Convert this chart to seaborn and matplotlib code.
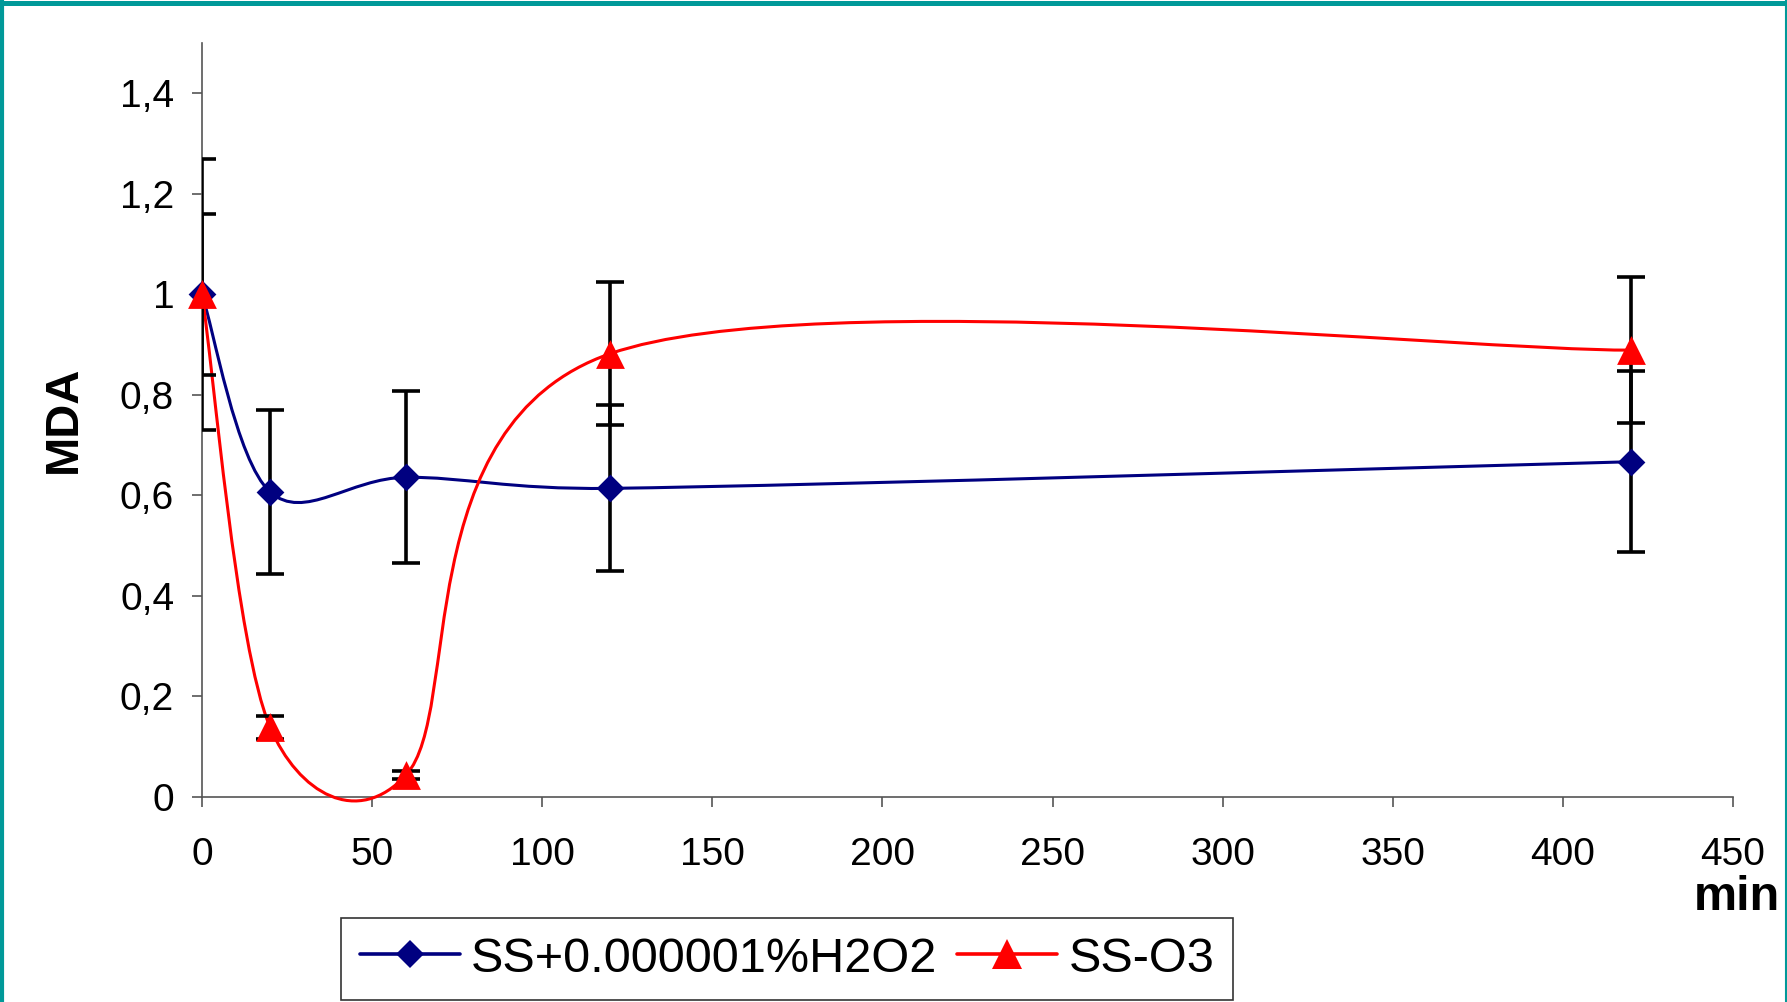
import numpy as np
import matplotlib
matplotlib.use("Agg")
import matplotlib.pyplot as plt
import seaborn as sns
from matplotlib.path import Path
from matplotlib.patches import PathPatch
from matplotlib.lines import Line2D

# Data
minutes = [0, 20, 60, 120, 420]
mda_h2o2 = [1.0, 0.607, 0.636, 0.614, 0.667]
err_h2o2 = [0.27, 0.163, 0.171, 0.165, 0.18]
mda_o3 = [1.0, 0.139, 0.044, 0.882, 0.889]
err_o3 = [0.16, 0.023, 0.008, 0.142, 0.145]
labels = ["SS+0.000001%H2O2", "SS-O3"]
yticks = [0, 0.2, 0.4, 0.6, 0.8, 1.0, 1.2, 1.4]
ytick_labels = ["0", "0,2", "0,4", "0,6", "0,8", "1", "1,2", "1,4"]
xticks = [0, 50, 100, 150, 200, 250, 300, 350, 400, 450]

BLUE = "#000080"
RED = "#FF0000"

sns.set_theme(style="white")
plt.rcParams['font.family'] = ['Liberation Sans', 'DejaVu Sans']
plt.rcParams['text.color'] = 'black'

W, H = 1787, 1002
fig = plt.figure(figsize=(W / 100, H / 100), dpi=100)
ax = fig.add_axes([202 / W, (H - 797) / H, (1733 - 202) / W, (797 - 43) / H])
ax.set_xlim(0, 450)
ax.set_ylim(0, 1.5)


def smooth_path(xs, ys):
    # Excel-style smoothed line: Catmull-Rom Bezier in screen space,
    # control arm capped at half the segment length
    pts = ax.transData.transform(np.column_stack([xs, ys]))
    n = len(pts)
    verts = [pts[0]]
    codes = [Path.MOVETO]
    for i in range(n - 1):
        p0 = pts[i - 1] if i > 0 else pts[i]
        p1, p2 = pts[i], pts[i + 1]
        p3 = pts[i + 2] if i + 2 < n else pts[i + 1]
        d12 = np.linalg.norm(p2 - p1)
        d02 = np.linalg.norm(p2 - p0)
        d13 = np.linalg.norm(p3 - p1)
        f1 = 1 / 6 if d02 / 6 < d12 / 2 else d12 / (2 * d02)
        f2 = 1 / 6 if d13 / 6 < d12 / 2 else d12 / (2 * d13)
        c1 = p1 + (p2 - p0) * f1
        c2 = p2 - (p3 - p1) * f2
        verts += [c1, c2, p2]
        codes += [Path.CURVE4] * 3
    verts = ax.transData.inverted().transform(np.array(verts))
    return Path(verts, codes)


for ys, color, z in [(mda_h2o2, BLUE, 2), (mda_o3, RED, 3)]:
    ax.add_patch(PathPatch(smooth_path(minutes, ys), facecolor="none",
                           edgecolor=color, lw=2.2, zorder=z, clip_on=False))

for ys, errs in [(mda_h2o2, err_h2o2), (mda_o3, err_o3)]:
    ax.errorbar(minutes, ys, yerr=errs, fmt="none", ecolor="black",
                elinewidth=2.6, capsize=10, capthick=2.6, zorder=4)

sns.scatterplot(x=minutes, y=mda_h2o2, marker="D", s=200, color=BLUE,
                linewidth=0, ax=ax, zorder=5, clip_on=False)
sns.scatterplot(x=minutes, y=mda_o3, marker="^", s=430, color=RED,
                linewidth=0, ax=ax, zorder=6, clip_on=False)

ax.set_xticks(xticks)
ax.set_yticks(yticks)
ax.set_yticklabels(ytick_labels)
ax.tick_params(axis="both", labelsize=28, length=7, width=1.2, color="#555555",
               labelcolor="black", direction="out", left=True, bottom=True)
ax.tick_params(axis="y", pad=13)
ax.tick_params(axis="x", pad=22)
for side in ["top", "right"]:
    ax.spines[side].set_visible(False)
for side in ["left", "bottom"]:
    ax.spines[side].set_color("#555555")
    ax.spines[side].set_linewidth(1.2)
    ax.spines[side].set_zorder(1)
ax.set_xlabel("")
ax.set_ylabel("")

fig.text(64 / W, 1 - 419 / H, "MDA", rotation=90, fontsize=34, fontweight="bold",
         ha="center", va="center")
fig.text(1737 / W, 1 - 897 / H, "min", fontsize=35, fontweight="bold",
         ha="center", va="center")

handles = [
    Line2D([], [], color=BLUE, lw=2.6, marker="D", markersize=14, markeredgewidth=0),
    Line2D([], [], color=RED, lw=2.6, marker="^", markersize=21, markeredgewidth=0),
]
leg = fig.legend(handles, labels, loc="center", bbox_to_anchor=(787 / W, 1 - 959 / H),
                 ncol=2, fontsize=35, frameon=True, fancybox=False, handlelength=2.06,
                 handletextpad=0.23, columnspacing=0.41, borderpad=0.38, borderaxespad=0)
leg.get_frame().set_edgecolor("black")
leg.get_frame().set_linewidth(1.2)
for t in leg.get_texts():
    t.set_color("black")

# teal frame round the slide
teal = "#009999"
fig.add_artist(Line2D([2 / W, 2 / W], [0, 1], color=teal, lw=3, transform=fig.transFigure))
fig.add_artist(Line2D([0, 1], [1 - 2.5 / H, 1 - 2.5 / H], color=teal, lw=3.6, transform=fig.transFigure))
fig.add_artist(Line2D([1 - 1 / W, 1 - 1 / W], [0, 1], color=teal, lw=1.5, transform=fig.transFigure))

fig.savefig("out.png", dpi=100)
